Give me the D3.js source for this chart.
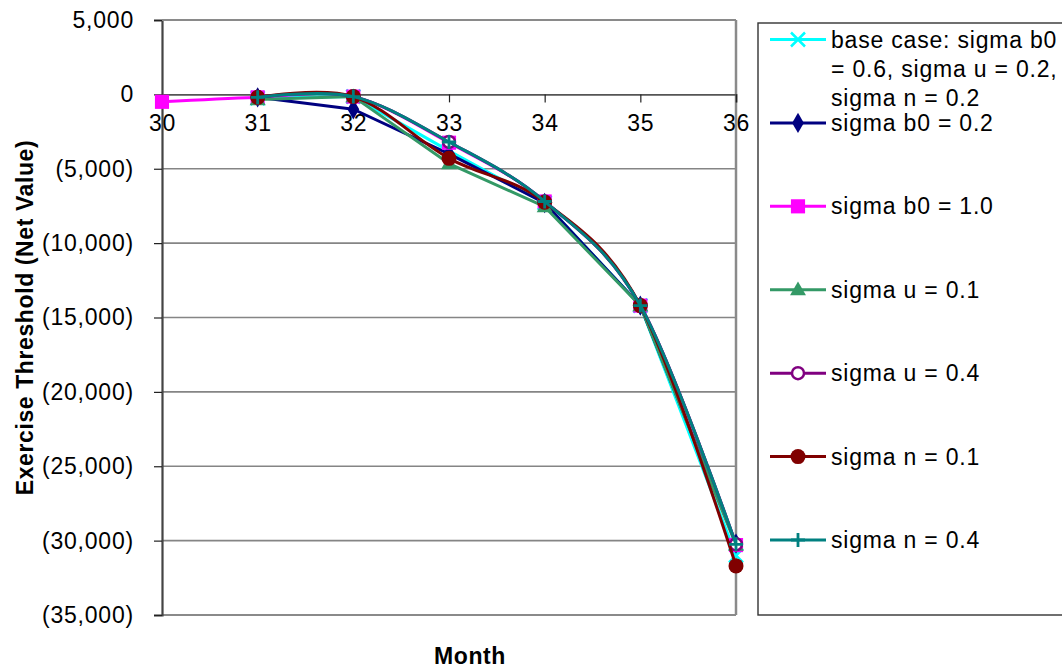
<!DOCTYPE html>
<html>
<head>
<meta charset="utf-8">
<script src="https://cdn.jsdelivr.net/npm/d3@7"></script>
<style>
  html, body { margin: 0; padding: 0; background: #fff; }
  svg { display: block; }
  text { font-family: "Liberation Sans", Arial, sans-serif; fill: #000; }
</style>
</head>
<body>
<svg id="chart" width="1062" height="670"></svg>
<script>
// Months on the horizontal axis
const months = [30, 31, 32, 33, 34, 35, 36];
// Vertical tick values
const yTicks = [5000, 0, -5000, -10000, -15000, -20000, -25000, -30000, -35000];

// Exercise threshold (net value) for each scenario; null = no value
const baseCase  = [null, -250, -150, -3800, -7300, -14200, -31000];
const sigmaB02  = [null, -200, -1000, -4000, -7300, -14200, -30200];
const sigmaB10  = [-500, -200, -150, -3250, -7200, -14200, -30300];
const sigmaU01  = [null, -350, -150, -4650, -7550, -14200, -30300];
const sigmaU04  = [null, -200, -150, -3200, -7200, -14200, -30250];
const sigmaN01  = [null, -200, -150, -4300, -7250, -14200, -31700];
const sigmaN04  = [null, -200, -150, -3200, -7200, -14200, -30250];

const seriesNames = [
  ["base case: sigma b0", "= 0.6, sigma u = 0.2,", "sigma n = 0.2"],
  ["sigma b0 = 0.2"],
  ["sigma b0 = 1.0"],
  ["sigma u = 0.1"],
  ["sigma u = 0.4"],
  ["sigma n = 0.1"],
  ["sigma n = 0.4"]
];

const series = [
  { name: seriesNames[0], values: baseCase, color: "#00ffff", marker: "x",        smooth: false },
  { name: seriesNames[1], values: sigmaB02, color: "#000080", marker: "diamond",  smooth: false },
  { name: seriesNames[2], values: sigmaB10, color: "#ff00ff", marker: "square",   smooth: true },
  { name: seriesNames[3], values: sigmaU01, color: "#339966", marker: "triangle", smooth: false },
  { name: seriesNames[4], values: sigmaU04, color: "#800080", marker: "ocircle",  smooth: true },
  { name: seriesNames[5], values: sigmaN01, color: "#800000", marker: "circle",   smooth: true },
  { name: seriesNames[6], values: sigmaN04, color: "#008080", marker: "plus",     smooth: true }
];

const svg = d3.select("#chart");
const plot = { left: 162, right: 736, top: 20, bottom: 615 };

const x = d3.scaleLinear().domain([30, 36]).range([plot.left, plot.right]);
const y = d3.scaleLinear().domain([5000, -35000]).range([plot.top, plot.bottom]);

const fmt = v => {
  const s = d3.format(",")(Math.abs(v));
  return v < 0 ? "(" + s + ")" : s;
};

// Horizontal gridlines
svg.append("g")
  .selectAll("line")
  .data(yTicks.filter(v => v !== 0 && v !== -35000))
  .join("line")
  .attr("x1", plot.left).attr("x2", plot.right)
  .attr("y1", d => y(d)).attr("y2", d => y(d))
  .attr("stroke", "#858585").attr("stroke-width", 1.6);

// Plot border (right and bottom)
svg.append("line")
  .attr("x1", plot.right).attr("x2", plot.right)
  .attr("y1", plot.top).attr("y2", plot.bottom)
  .attr("stroke", "#8a8a8a").attr("stroke-width", 2.5);
svg.append("line")
  .attr("x1", plot.left).attr("x2", plot.right)
  .attr("y1", plot.bottom).attr("y2", plot.bottom)
  .attr("stroke", "#8a8a8a").attr("stroke-width", 2);

// Vertical axis
const yAxis = d3.axisLeft(y).tickValues(yTicks).tickFormat(fmt).tickSize(8).tickPadding(20);
const gy = svg.append("g").attr("transform", `translate(${plot.left},0)`).call(yAxis);
gy.select(".domain").attr("stroke", "#444").attr("stroke-width", 2.2);
gy.selectAll(".tick line").attr("stroke", "#222").attr("stroke-width", 1.2);
gy.selectAll(".tick text")
  .style("font-size", "23px").style("letter-spacing", "0.8px")
  .attr("font-family", null);

// Horizontal axis crossing at zero
const xAxis = d3.axisBottom(x).tickValues(months).tickFormat(d3.format("d")).tickSize(8).tickPadding(12);
const gx = svg.append("g").attr("transform", `translate(0,${y(0)})`).call(xAxis);
gx.select(".domain").attr("stroke", "#555").attr("stroke-width", 1.8);
gx.selectAll(".tick line").attr("stroke", "#222").attr("stroke-width", 1.2);
gx.selectAll(".tick text")
  .style("font-size", "23px").style("letter-spacing", "0.8px")
  .attr("font-family", null);

// Top border
svg.append("line")
  .attr("x1", plot.left).attr("x2", plot.right)
  .attr("y1", y(5000)).attr("y2", y(5000))
  .attr("stroke", "#8a8a8a").attr("stroke-width", 2);

// Axis titles
svg.append("text")
  .attr("transform", `translate(33,${(plot.top + plot.bottom) / 2}) rotate(-90)`)
  .attr("text-anchor", "middle")
  .style("font-size", "23px").style("font-weight", "bold").style("letter-spacing", "0.6px")
  .text("Exercise Threshold (Net Value)");
svg.append("text")
  .attr("x", 470).attr("y", 664)
  .attr("text-anchor", "middle")
  .style("font-size", "23px").style("font-weight", "bold").style("letter-spacing", "0.6px")
  .text("Month");

// Marker drawing
function drawMarker(g, type, color) {
  const s = 7;
  if (type === "square") {
    g.append("path").attr("d", d3.symbol(d3.symbolSquare, 200)()).attr("fill", color);
  } else if (type === "diamond") {
    g.append("path").attr("d", d3.symbol(d3.symbolDiamond, 120)()).attr("fill", color);
  } else if (type === "triangle") {
    g.append("path").attr("d", d3.symbol(d3.symbolTriangle, 110)()).attr("transform", "translate(0,1)").attr("fill", color);
  } else if (type === "circle") {
    g.append("circle").attr("r", 7.5).attr("fill", color);
  } else if (type === "ocircle") {
    g.append("circle").attr("r", 6).attr("fill", "#fff").attr("stroke", color).attr("stroke-width", 2.5);
  } else if (type === "x") {
    g.append("path").attr("d", `M${-s},${-s}L${s},${s}M${-s},${s}L${s},${-s}`)
      .attr("stroke", color).attr("stroke-width", 2.5).attr("fill", "none");
  } else if (type === "plus") {
    g.append("path").attr("d", `M${-s},0L${s},0M0,${-s}L0,${s}`)
      .attr("stroke", color).attr("stroke-width", 2.8).attr("fill", "none");
  }
}

// Series lines and markers
const plotG = svg.append("g");
series.forEach(s => {
  const pts = months.map((m, i) => ({ m, v: s.values[i] }));
  const line = d3.line()
    .defined(d => d.v !== null)
    .x(d => x(d.m)).y(d => y(d.v))
    .curve(s.smooth ? d3.curveCardinal.tension(0) : d3.curveLinear);
  plotG.append("path")
    .datum(pts)
    .attr("d", line)
    .attr("fill", "none")
    .attr("stroke", s.color)
    .attr("stroke-width", 3)
    .attr("stroke-linejoin", "round");
  pts.filter(d => d.v !== null).forEach(d => {
    const g = plotG.append("g").attr("transform", `translate(${x(d.m)},${y(d.v)})`);
    drawMarker(g, s.marker, s.color);
  });
});

// Legend
const legend = { left: 758, top: 23, bottom: 615 };
svg.append("rect")
  .attr("x", legend.left).attr("y", legend.top)
  .attr("width", 1080 - legend.left).attr("height", legend.bottom - legend.top)
  .attr("fill", "#fff").attr("stroke", "#333").attr("stroke-width", 1.4);

const rowY = d3.scaleLinear().domain([0, 6]).range([39.5, 540]);
series.forEach((s, i) => {
  const cy = rowY(i);
  const g = svg.append("g").attr("transform", `translate(0,${cy})`);
  g.append("line").attr("x1", 770).attr("x2", 826).attr("y1", 0).attr("y2", 0)
    .attr("stroke", s.color).attr("stroke-width", 3);
  const mg = g.append("g").attr("transform", "translate(798,0)");
  drawMarker(mg, s.marker, s.color);
  s.name.forEach((line, j) => {
    g.append("text")
      .attr("x", 831).attr("y", j * 29).attr("dy", "0.35em")
      .style("font-size", "23px").style("letter-spacing", "0.8px")
      .text(line);
  });
});
</script>
</body>
</html>
